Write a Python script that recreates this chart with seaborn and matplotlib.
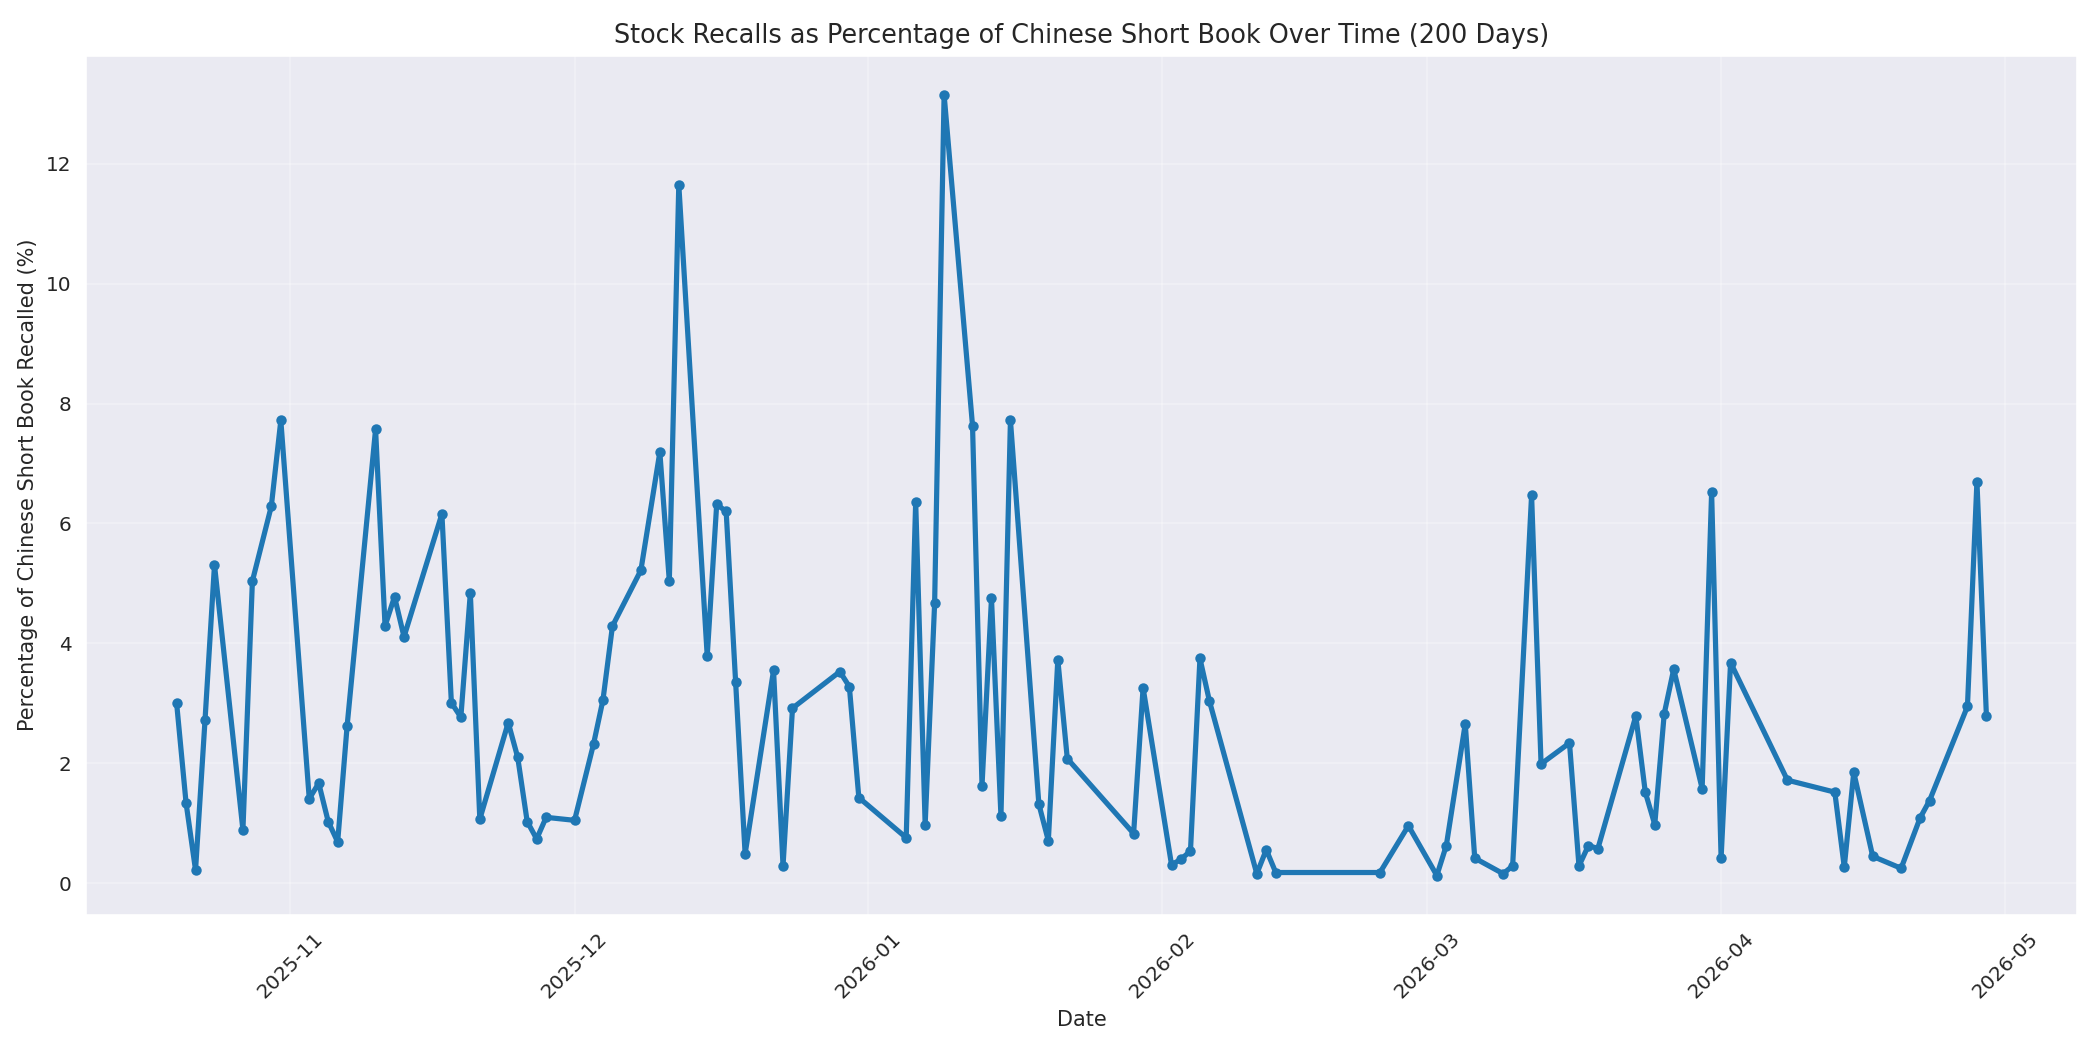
import matplotlib
matplotlib.use("Agg")
import matplotlib.pyplot as plt
import seaborn as sns
import pandas as pd

# Datas (dias úteis) e percentual recolhido
dates = [
    "2025-10-20", "2025-10-21", "2025-10-22", "2025-10-23", "2025-10-24",
    "2025-10-27", "2025-10-28", "2025-10-30", "2025-10-31",
    "2025-11-03", "2025-11-04", "2025-11-05", "2025-11-06", "2025-11-07",
    "2025-11-10", "2025-11-11", "2025-11-12", "2025-11-13",
    "2025-11-17", "2025-11-18", "2025-11-19", "2025-11-20", "2025-11-21",
    "2025-11-24", "2025-11-25", "2025-11-26", "2025-11-27", "2025-11-28",
    "2025-12-01", "2025-12-03", "2025-12-04", "2025-12-05",
    "2025-12-08", "2025-12-10", "2025-12-11", "2025-12-12",
    "2025-12-15", "2025-12-16", "2025-12-17", "2025-12-18", "2025-12-19",
    "2025-12-22", "2025-12-23", "2025-12-24",
    "2025-12-29", "2025-12-30", "2025-12-31",
    "2026-01-05", "2026-01-06", "2026-01-07", "2026-01-08", "2026-01-09",
    "2026-01-12", "2026-01-13", "2026-01-14", "2026-01-15", "2026-01-16",
    "2026-01-19", "2026-01-20", "2026-01-21", "2026-01-22",
    "2026-01-29", "2026-01-30",
    "2026-02-02", "2026-02-03", "2026-02-04", "2026-02-05", "2026-02-06",
    "2026-02-11", "2026-02-12", "2026-02-13",
    "2026-02-24", "2026-02-27",
    "2026-03-02", "2026-03-03", "2026-03-05", "2026-03-06",
    "2026-03-09", "2026-03-10", "2026-03-12", "2026-03-13",
    "2026-03-16", "2026-03-17", "2026-03-18", "2026-03-19",
    "2026-03-23", "2026-03-24", "2026-03-25", "2026-03-26", "2026-03-27",
    "2026-03-30", "2026-03-31", "2026-04-01", "2026-04-02",
    "2026-04-08",
    "2026-04-13", "2026-04-14", "2026-04-15", "2026-04-17",
    "2026-04-20", "2026-04-22", "2026-04-23",
    "2026-04-27", "2026-04-28", "2026-04-29",
]

recall_pct = [
    3.01, 1.34, 0.22, 2.72, 5.31,
    0.89, 5.04, 6.29, 7.72,
    1.41, 1.67, 1.03, 0.69, 2.63,
    7.57, 4.29, 4.78, 4.11,
    6.16, 3.01, 2.77, 4.84, 1.07,
    2.68, 2.10, 1.03, 0.74, 1.10,
    1.05, 2.32, 3.06, 4.29,
    5.22, 7.19, 5.04, 11.65,
    3.79, 6.32, 6.20, 3.35, 0.49,
    3.55, 0.29, 2.92,
    3.53, 3.28, 1.43,
    0.76, 6.36, 0.98, 4.67, 13.15,
    7.63, 1.63, 4.75, 1.12, 7.72,
    1.32, 0.71, 3.73, 2.08,
    0.83, 3.26,
    0.31, 0.40, 0.54, 3.75, 3.04,
    0.16, 0.56, 0.18,
    0.18, 0.96,
    0.13, 0.63, 2.66, 0.42,
    0.16, 0.29, 6.47, 1.99,
    2.34, 0.29, 0.63, 0.58,
    2.79, 1.52, 0.98, 2.83, 3.57,
    1.58, 6.52, 0.42, 3.68,
    1.72,
    1.52, 0.27, 1.85, 0.45,
    0.25, 1.09, 1.38,
    2.95, 6.70, 2.79,
]

df = pd.DataFrame({"Date": pd.to_datetime(dates), "Recall": recall_pct})

sns.set_style("darkgrid")
plt.rcParams['font.family'] = 'DejaVu Sans'

fig, ax = plt.subplots(figsize=(14, 7), dpi=150)
sns.lineplot(data=df, x="Date", y="Recall", ax=ax, color="#1f77b4",
             linewidth=2.5, marker="o", markersize=4,
             markeredgecolor="#1f77b4", markeredgewidth=1)

ax.set_title("Stock Recalls as Percentage of Chinese Short Book Over Time (200 Days)", fontsize=12.25)
ax.set_xlabel("Date", fontsize=10)
ax.set_ylabel("Percentage of Chinese Short Book Recalled (%)", fontsize=10)
ax.tick_params(axis="both", labelsize=9.6)
plt.xticks(rotation=45)
ax.grid(True, alpha=0.3)

fig.subplots_adjust(left=0.041, right=0.989, top=0.947, bottom=0.129)
plt.savefig("out.png", dpi=150)
